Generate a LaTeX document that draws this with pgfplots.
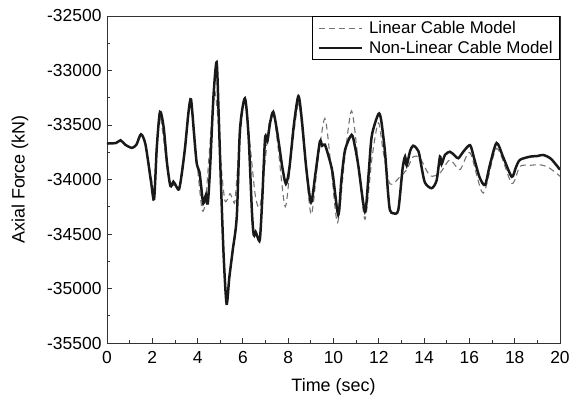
\documentclass[border=0pt]{standalone}
\usepackage{fontspec}
\setmainfont{Liberation Sans}
\usepackage{pgfplots}
\pgfplotsset{compat=1.18}

\begin{document}
\begin{tikzpicture}
\path[use as bounding box] (-107bp,-57bp) rectangle (463bp,343bp);
\begin{axis}[
    at={(0,0)}, anchor=south west,
    scale only axis,
    width=453bp, height=327bp,
    xmin=0, xmax=20, ymin=-35500, ymax=-32500,
    xtick={0,2,...,20}, minor x tick num=1,
    ytick={-35500,-35000,...,-32500}, minor y tick num=1,
    tick align=inside, xtick pos=bottom, ytick pos=left,
    major tick length=5bp, minor tick length=3bp,
    scaled y ticks=false,
    /pgf/number format/assume math mode=true,
    /pgf/number format/set thousands separator={},
    tick label style={font=\fontsize{17.5}{20}\selectfont},
    xticklabel style={yshift=-5bp},
    yticklabel style={xshift=-2bp},
    label style={font=\fontsize{18}{21}\selectfont},
    xlabel={Time (sec)}, ylabel={Axial Force (kN)},
    xlabel style={at={(axis description cs:0.5,-0.135)}, anchor=center},
    ylabel style={at={(axis description cs:-0.192,0.5)}, anchor=center},
    axis line style={line width=0.9pt, black!80},
    every tick/.style={black!80, line width=0.9pt},
    legend style={at={(1,1)}, anchor=north east, draw=black, line width=0.7pt,
        font=\fontsize{17}{20}\selectfont, row sep=2pt, inner xsep=5bp, inner ysep=3pt},
    legend cell align=left,
    legend image code/.code={\draw[#1] (0bp,0bp) -- (43bp,0bp);},
]
% Linear cable model
\addplot[black!55, line width=1.1pt, dash pattern=on 6pt off 4pt, smooth, tension=0.45] coordinates {
(0,-33670) (0.4,-33665) (0.6,-33640) (0.8,-33680) (1.1,-33710) (1.3,-33680) (1.5,-33585) (1.7,-33680)
(1.95,-33980) (2.08,-34120) (2.2,-33720) (2.3,-33400) (2.45,-33550) (2.65,-33880) (2.8,-34050)
(3.0,-34050) (3.18,-34080) (3.4,-33750) (3.6,-33350) (3.7,-33280) (3.85,-33550) (4.0,-33900)
(4.2,-34280) (4.35,-34200) (4.5,-33800) (4.65,-33400) (4.77,-33200) (4.9,-33450) (5.05,-33900)
(5.2,-34190) (5.32,-34180) (5.43,-34130) (5.55,-34180) (5.65,-34200) (5.8,-33800) (6.0,-33350)
(6.09,-33280) (6.3,-33650) (6.55,-34150) (6.75,-34250) (6.95,-33900) (7.15,-33500) (7.34,-33380)
(7.55,-33700) (7.87,-34250) (8.15,-33750) (8.45,-33310) (8.7,-33700) (9.01,-34320) (9.3,-33850)
(9.62,-33440) (9.9,-33900) (10.18,-34395) (10.5,-33800) (10.8,-33370) (11.1,-33850) (11.39,-34365)
(11.7,-33800) (11.98,-33480) (12.2,-33750) (12.49,-34040) (12.94,-33975) (13.23,-33910)
(13.52,-33790) (13.82,-33805) (14.26,-33965) (14.7,-33940) (15.14,-33820) (15.58,-33910)
(16.03,-33755) (16.61,-34125) (17.2,-33715) (17.87,-34035) (18.23,-33880) (18.68,-33870)
(19.11,-33865) (19.5,-33890) (20,-33970)
};
% Non-linear cable model
\addplot[black!90, line width=2.5pt, smooth, tension=0.45] coordinates {
(0,-33670) (0.4,-33665) (0.6,-33640) (0.8,-33680) (1.1,-33710) (1.3,-33680) (1.5,-33585) (1.7,-33680)
(1.95,-34030) (2.08,-34180) (2.2,-33700) (2.34,-33380) (2.5,-33520) (2.65,-33850) (2.8,-34060)
(2.93,-34020) (3.05,-34060) (3.18,-34090) (3.3,-33950) (3.45,-33700) (3.6,-33380) (3.71,-33265)
(3.85,-33600) (3.96,-33850) (4.08,-33930) (4.15,-34050) (4.25,-34220) (4.37,-34140) (4.45,-34220)
(4.55,-33900) (4.7,-33240) (4.84,-32925) (4.93,-33400) (5.02,-33970) (5.15,-34700) (5.28,-35140)
(5.4,-34900) (5.55,-34650) (5.73,-34340) (5.87,-33545) (6.09,-33255) (6.25,-33600) (6.4,-34300)
(6.48,-34510) (6.56,-34480) (6.65,-34530) (6.75,-34550) (6.85,-34200) (6.98,-33620) (7.08,-33650)
(7.2,-33480) (7.34,-33380) (7.48,-33520) (7.61,-33700) (7.75,-33900) (7.9,-34040) (8.05,-33900)
(8.25,-33500) (8.45,-33235) (8.6,-33450) (8.8,-33900) (9.01,-34210) (9.2,-33950) (9.4,-33650)
(9.5,-33690) (9.62,-33680) (9.8,-33800) (9.96,-33940) (10.21,-34325) (10.35,-34000) (10.51,-33730)
(10.8,-33590) (10.95,-33700) (11.1,-33880) (11.39,-34295) (11.55,-33950) (11.69,-33600)
(11.98,-33400) (12.1,-33450) (12.27,-33740) (12.4,-34100) (12.49,-34280) (12.64,-34310)
(12.86,-34280) (13.05,-33900) (13.16,-33790) (13.23,-33870) (13.38,-33740) (13.52,-33690)
(13.75,-33740) (13.9,-33900) (14.04,-34030) (14.33,-34080) (14.55,-34010) (14.7,-33790)
(14.77,-33860) (14.92,-33775) (15.14,-33745) (15.35,-33780) (15.51,-33805) (15.75,-33740)
(16.03,-33685) (16.2,-33800) (16.45,-33980) (16.69,-34050) (16.9,-33870) (17.2,-33665)
(17.5,-33800) (17.87,-33975) (18.05,-33890) (18.23,-33820) (18.68,-33790) (19.0,-33785)
(19.26,-33775) (19.6,-33810) (20,-33910)
};
\legend{\kern4bp Linear Cable Model, \kern4bp Non-Linear Cable Model}
\end{axis}
\end{tikzpicture}
\end{document}
